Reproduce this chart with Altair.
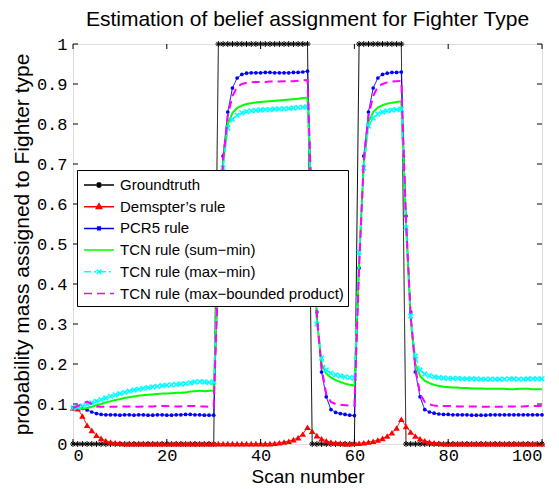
import altair as alt
import pandas as pd

scans = list(range(0, 101))

groundtruth = [0,0,0,0,0,0,0,0,0,0, 0,0,0,0,0,0,0,0,0,0, 0,0,0,0,0,0,0,0,0,0, 0,
               1,1,1,1,1,1,1,1,1,1, 1,1,1,1,1,1,1,1,1,1,
               0,0,0,0,0,0,0,0,0,0,
               1,1,1,1,1,1,1,1,1,1,
               0,0,0,0,0,0,0,0,0,0, 0,0,0,0,0,0,0,0,0,0, 0,0,0,0,0,0,0,0,0,0]

dempster = [0.090,0.088,0.070,0.047,0.034,0.022,0.014,0.008,0.005,0.003,
            0.002,0.001,0.001,0.001,0.001,0.001,0.001,0.001,0.001,0.001,
            0.001,0.001,0.001,0.001,0.001,0.001,0.001,0.001,0.001,0.001,
            0.001,0.001,0.001,0.001,0.001,0.001,0.001,0.001,0.001,0.001,
            0.001,0.001,0.001,0.002,0.003,0.005,0.007,0.011,0.016,0.025,
            0.042,0.032,0.021,0.013,0.008,0.005,0.003,0.002,0.001,0.001,
            0.002,0.002,0.003,0.005,0.007,0.010,0.014,0.020,0.028,0.040,
            0.062,0.044,0.030,0.020,0.013,0.008,0.005,0.003,0.002,0.001,
            0.001,0.001,0.001,0.001,0.001,0.001,0.001,0.001,0.001,0.001,
            0.001,0.001,0.001,0.001,0.001,0.001,0.001,0.001,0.001,0.001,
            0.001]

pcr5 = [0.090,0.090,0.089,0.085,0.080,0.076,0.074,0.073,0.073,0.073,
        0.072,0.073,0.073,0.072,0.073,0.073,0.072,0.072,0.073,0.073,
        0.072,0.072,0.073,0.073,0.074,0.074,0.073,0.073,0.072,0.072,
        0.072,
        0.440,0.720,0.830,0.890,0.915,0.924,0.927,0.928,0.928,0.928,
        0.929,0.929,0.928,0.928,0.928,0.928,0.929,0.929,0.930,0.932,
        0.570,0.330,0.180,0.118,0.086,0.079,0.076,0.074,0.072,0.071,
        0.440,0.720,0.830,0.890,0.915,0.924,0.927,0.929,0.929,0.930,
        0.570,0.330,0.180,0.118,0.086,0.080,0.077,0.075,0.074,0.074,
        0.073,0.073,0.073,0.073,0.072,0.072,0.072,0.072,0.073,0.073,
        0.073,0.073,0.073,0.073,0.073,0.073,0.073,0.073,0.073,0.073]

sum_min = [0.090,0.089,0.088,0.090,0.093,0.097,0.100,0.104,0.107,0.110,
           0.112,0.115,0.117,0.119,0.121,0.122,0.123,0.124,0.125,0.126,
           0.126,0.127,0.128,0.128,0.129,0.131,0.132,0.133,0.132,0.133,
           0.133,
           0.460,0.700,0.800,0.828,0.840,0.846,0.850,0.852,0.854,0.855,
           0.856,0.857,0.858,0.859,0.860,0.861,0.862,0.863,0.865,0.866,
           0.550,0.310,0.200,0.176,0.166,0.160,0.155,0.151,0.148,0.146,
           0.460,0.700,0.805,0.830,0.841,0.847,0.851,0.853,0.855,0.857,
           0.550,0.310,0.200,0.170,0.158,0.152,0.148,0.145,0.143,0.142,
           0.141,0.141,0.140,0.140,0.139,0.139,0.139,0.138,0.138,0.138,
           0.138,0.138,0.137,0.137,0.138,0.138,0.138,0.137,0.137,0.137]

max_min = [0.090,0.092,0.095,0.099,0.103,0.107,0.111,0.115,0.119,0.123,
           0.126,0.129,0.132,0.135,0.137,0.139,0.141,0.143,0.144,0.146,
           0.147,0.148,0.149,0.150,0.151,0.153,0.155,0.156,0.155,0.154,
           0.155,
           0.480,0.690,0.790,0.812,0.822,0.828,0.831,0.833,0.834,0.835,
           0.836,0.836,0.837,0.838,0.838,0.839,0.840,0.841,0.842,0.843,
           0.540,0.300,0.215,0.185,0.177,0.173,0.170,0.168,0.166,0.165,
           0.480,0.690,0.795,0.815,0.825,0.830,0.833,0.835,0.836,0.837,
           0.540,0.320,0.220,0.185,0.175,0.171,0.168,0.166,0.165,0.164,
           0.164,0.164,0.163,0.163,0.163,0.163,0.162,0.162,0.162,0.162,
           0.162,0.162,0.163,0.163,0.162,0.162,0.163,0.163,0.163,0.163]

max_bounded = [0.090,0.095,0.100,0.106,0.100,0.094,0.093,0.093,0.093,0.093,
               0.094,0.094,0.094,0.093,0.093,0.094,0.094,0.094,0.095,0.095,
               0.095,0.094,0.094,0.094,0.095,0.095,0.095,0.094,0.094,0.093,
               0.093,
               0.440,0.710,0.820,0.870,0.893,0.900,0.903,0.904,0.905,0.905,
               0.905,0.906,0.906,0.906,0.907,0.907,0.907,0.908,0.909,0.910,
               0.560,0.320,0.190,0.125,0.105,0.100,0.098,0.097,0.096,0.095,
               0.440,0.710,0.820,0.870,0.893,0.900,0.904,0.906,0.907,0.908,
               0.560,0.320,0.190,0.125,0.105,0.099,0.096,0.095,0.095,0.095,
               0.095,0.094,0.094,0.094,0.094,0.094,0.093,0.093,0.093,0.093,
               0.093,0.093,0.094,0.094,0.094,0.094,0.095,0.095,0.095,0.095]

series_names = ["Groundtruth", "Demspter\u2019s rule", "PCR5 rule",
                "TCN rule (sum\u2212min)", "TCN rule (max\u2212min)",
                "TCN rule (max\u2212bounded product)"]
series_values = [groundtruth, dempster, pcr5, sum_min, max_min, max_bounded]
series_colors = ["#000000", "#ff0000", "#0000ff", "#00ff00", "#00ffff", "#ff00ff"]
series_dash = [[1, 0], [1, 0], [1, 0], [1, 0], [7, 3, 2, 3], [8, 5]]
series_width = [1, 1, 1, 2, 1.5, 2]

x_ticks = [0, 20, 40, 60, 80, 100]
y_ticks = [0, 0.1, 0.2, 0.3, 0.4, 0.5, 0.6, 0.7, 0.8, 0.9, 1]

# legend symbols: unit = 10 px (size 400)
legend_paths = [
    "M-1.5,0L1.5,0M-0.3,0L0.3,0M0,-0.3L0,0.3M-0.21,-0.21L0.21,0.21M-0.21,0.21L0.21,-0.21",
    "M-1.5,0L1.5,0M0,-0.3L0.27,0.18L-0.27,0.18ZM0,-0.15L0.13,0.1L-0.13,0.1Z",
    "M-1.5,0L1.5,0M-0.13,-0.13L0.13,-0.13L0.13,0.13L-0.13,0.13ZM-0.06,0L0.06,0",
    "M-1.5,0L1.5,0",
    "M-1.5,0L1.5,0M-0.22,-0.22L0.22,0.22M-0.22,0.22L0.22,-0.22",
    "M-1.5,0L1.5,0",
]

rows = []
for name, vals in zip(series_names, series_values):
    for s, v in zip(scans, vals):
        rows.append({"scan": s, "value": v, "series": name})
df = pd.DataFrame(rows)

W, H = 469, 400
TICK = 5
MONO = "Liberation Mono"
SANS = "Liberation Sans"

xscale = alt.Scale(domain=[0, 100], nice=False, zero=False)
yscale = alt.Scale(domain=[0, 1], nice=False, zero=False)

xaxis = alt.Axis(values=x_ticks, ticks=False, domain=False, grid=False,
                 labelFont=MONO, labelFontSize=17, labelColor="#000",
                 labelPadding=3, title="Scan number", titleFont=SANS,
                 titleFontSize=19, titleFontWeight="normal",
                 titleColor="#000", titlePadding=4)
yaxis = alt.Axis(values=y_ticks, ticks=False, domain=False, grid=False,
                 format="~g", labelFont=MONO, labelFontSize=17,
                 labelColor="#000", labelPadding=6,
                 title="probability mass assigned to Fighter type",
                 titleFont=SANS, titleFontSize=21,
                 titleFontWeight="normal", titleColor="#000",
                 titlePadding=4)

xenc = alt.X("scan:Q", scale=xscale, axis=xaxis)
yenc = alt.Y("value:Q", scale=yscale, axis=yaxis)

base = alt.Chart(df)
layers = []
marker_specs = {
    "Groundtruth": dict(shape="M-1,0L1,0M0,-1L0,1M-0.7,-0.7L0.7,0.7M-0.7,0.7L0.7,-0.7",
                        size=36, filled=False, strokeWidth=1),
    "Demspter\u2019s rule": dict(shape="triangle-up", size=42, filled=True),
    "PCR5 rule": dict(shape="circle", size=14, filled=True),
    "TCN rule (max\u2212min)": dict(shape="M-1,-1L1,1M-1,1L1,-1", size=22,
                                    filled=False, strokeWidth=1.5),
}
for name, col, dash, wdt in zip(series_names, series_colors, series_dash, series_width):
    sub = base.transform_filter(alt.datum.series == name)
    layers.append(sub.mark_line(color=col, strokeDash=dash, strokeWidth=wdt)
                  .encode(x=xenc, y=yenc))
    if name in marker_specs:
        spec = marker_specs[name]
        layers.append(sub.mark_point(color=col, opacity=1, **spec)
                      .encode(x=xenc, y=yenc))

legend_layer = base.transform_filter("false").mark_point(
    filled=False, opacity=1, size=400, strokeWidth=1.5).encode(
    x=xenc, y=yenc,
    color=alt.Color("series:N", scale=alt.Scale(domain=series_names, range=series_colors),
                    legend=alt.Legend(title=None, orient="none", legendX=4, legendY=126,
                                      fillColor="white", strokeColor="black",
                                      padding=4, labelFont=SANS, labelFontSize=15,
                                      labelColor="#000", labelOffset=10,
                                      symbolOffset=7,
                                      rowPadding=2.7, symbolStrokeWidth=1.5,
                                      symbolSize=400, labelLimit=400)),
    shape=alt.Shape("series:N", scale=alt.Scale(domain=series_names, range=legend_paths)),
    strokeDash=alt.StrokeDash("series:N", scale=alt.Scale(domain=series_names,
                                                          range=series_dash)),
)
layers.append(legend_layer)

tick_df_y = pd.DataFrame({"value": y_ticks})
tick_df_x = pd.DataFrame({"scan": x_ticks})
ty = alt.Y("value:Q", scale=yscale, axis=yaxis)
tx = alt.X("scan:Q", scale=xscale, axis=xaxis)
layers.append(alt.Chart(tick_df_y).mark_rule(color="black", strokeWidth=1).encode(
    y=ty, x=alt.value(0), x2=alt.value(TICK)))
layers.append(alt.Chart(tick_df_y).mark_rule(color="black", strokeWidth=1).encode(
    y=ty, x=alt.value(W), x2=alt.value(W - TICK)))
layers.append(alt.Chart(tick_df_x).mark_rule(color="black", strokeWidth=1).encode(
    x=tx, y=alt.value(H), y2=alt.value(H - TICK)))
layers.append(alt.Chart(tick_df_x).mark_rule(color="black", strokeWidth=1).encode(
    x=tx, y=alt.value(0), y2=alt.value(TICK)))

chart = alt.layer(*layers).properties(
    width=W, height=H,
    title=alt.Title("Estimation of belief assignment for Fighter Type",
                    font=SANS, fontSize=21, fontWeight="normal", color="#000",
                    offset=5),
    autosize=alt.AutoSizeParams(type="none"),
    padding={"left": 65, "top": 36, "right": 9, "bottom": 45},
).configure_view(stroke="black", strokeWidth=1).configure(background="white")

chart.save("out.html", embed_options={"renderer": "svg", "actions": False})
